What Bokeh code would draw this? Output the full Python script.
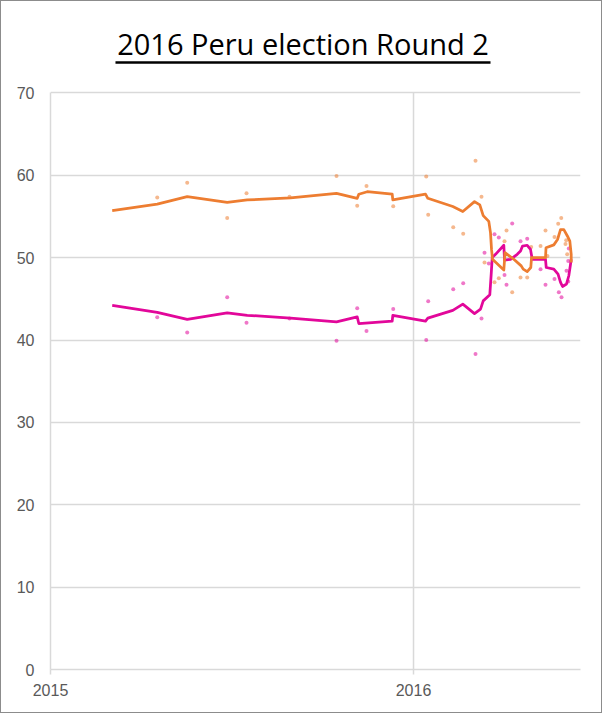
from bokeh.plotting import figure
from bokeh.models import Range1d, FixedTicker
from bokeh.core.properties import value
from bokeh.embed import file_html
from bokeh.resources import INLINE

# ---- data (decimal years, percent) ----
fuji_x = [2015.294, 2015.3766, 2015.4868, 2015.540, 2015.6584, 2015.7879, 2015.8449,
          2015.8705, 2015.9441, 2016.0350, 2016.0405, 2016.1094, 2016.1369, 2016.1708,
          2016.1873, 2016.1956, 2016.2231, 2016.2350, 2016.2507, 2016.2562, 2016.2719,
          2016.2948, 2016.3132, 2016.3242, 2016.3499, 2016.3636, 2016.3690, 2016.3884,
          2016.3986, 2016.4069, 2016.4187, 2016.4207, 2016.4234]
fuji_y = [57.3, 59.1, 54.8, 57.8, 57.4, 59.9, 56.3, 58.7, 56.25, 59.85, 55.2, 53.7, 52.9,
          61.75, 57.4, 49.4, 47.0, 47.5, 52.0, 53.3, 45.8, 47.6, 47.6, 51.3, 51.4, 53.3,
          50.2, 52.5, 54.1, 54.8, 51.65, 52.1, 50.4]

ppk_x = [2015.294, 2015.3766, 2015.4868, 2015.540, 2015.6584, 2015.7879, 2015.8449,
         2015.8705, 2015.9441, 2016.0350, 2016.0405, 2016.1094, 2016.1369, 2016.1708,
         2016.1873, 2016.1956, 2016.2074, 2016.2231, 2016.2350, 2016.2507, 2016.2562,
         2016.2719, 2016.2948, 2016.3132, 2016.3499, 2016.3636, 2016.3884, 2016.4003,
         2016.4077, 2016.4215, 2016.4262, 2016.4278, 2016.4262]
ppk_y = [42.75, 40.9, 45.2, 42.1, 42.6, 39.9, 43.85, 41.1, 43.75, 40.0, 44.7, 46.15, 46.9,
         38.3, 42.6, 50.6, 49.3, 52.85, 52.45, 47.9, 46.7, 54.15, 52.0, 52.3, 48.6, 46.7,
         47.4, 45.8, 45.2, 48.4, 47.1, 51.1, 49.6]

fuji_trend_x = [2015.170, 2015.294, 2015.3766, 2015.4868, 2015.5419, 2015.6612, 2015.7879,
                2015.8449, 2015.8493, 2015.8725, 2015.9413, 2015.9430, 2016.0331, 2016.0394,
                2016.1083, 2016.1358, 2016.1680, 2016.1826, 2016.1920, 2016.2074, 2016.2121,
                2016.2149, 2016.2176, 2016.2488, 2016.2521, 2016.2763, 2016.2967, 2016.3022,
                2016.3132, 2016.3231, 2016.3251, 2016.3636, 2016.3650, 2016.3865, 2016.3967,
                2016.4050, 2016.4141, 2016.4242, 2016.4306, 2016.4344, 2016.4344]
fuji_trend_y = [55.7, 56.5, 57.4, 56.7, 57.0, 57.25, 57.8, 57.2, 57.7, 58.0, 57.7, 57.0,
                57.7, 57.2, 56.2, 55.6, 56.8, 56.4, 55.1, 54.4, 53.0, 51.0, 49.8, 48.5,
                50.6, 49.8, 49.0, 48.6, 48.3, 48.8, 50.0, 50.0, 51.2, 51.55, 52.2, 53.4,
                53.4, 52.6, 52.0, 50.4, 49.4]

ppk_trend_x = [2015.170, 2015.294, 2015.3766, 2015.4868, 2015.5419, 2015.6612, 2015.7879,
               2015.8449, 2015.8493, 2015.9413, 2015.9430, 2016.0331, 2016.0394, 2016.1083,
               2016.1358, 2016.1680, 2016.1846, 2016.1920, 2016.2102, 2016.2140, 2016.2168,
               2016.2259, 2016.2488, 2016.2507, 2016.2672, 2016.2857, 2016.2948, 2016.3003,
               2016.3132, 2016.3223, 2016.3270, 2016.3636, 2016.3656, 2016.3865, 2016.3981,
               2016.4050, 2016.4105, 2016.4215, 2016.4278, 2016.4325, 2016.4344]
ppk_trend_y = [44.2, 43.35, 42.5, 43.3, 43.0, 42.65, 42.2, 42.8, 42.0, 42.3, 43.0, 42.3,
               42.65, 43.6, 44.35, 43.2, 43.75, 44.75, 45.5, 48.0, 50.0, 50.4, 51.5, 49.7,
               49.8, 50.4, 50.8, 51.4, 51.5, 51.0, 49.8, 49.8, 48.8, 48.6, 48.0, 47.0, 46.5,
               46.8, 47.8, 49.2, 49.8]

y_ticks = [0, 10, 20, 30, 40, 50, 60, 70]
x_ticks = [2015, 2016]
title_text = "2016 Peru election Round 2"

ORANGE = "#ED7D31"
MAGENTA = "#E2079A"
GRID = "#d9d9d9"
LABEL = "#595959"

Y_MIN, Y_MAX = y_ticks[0], y_ticks[-1]

p = figure(width=602, height=713, output_backend="svg", toolbar_location=None,
           x_range=Range1d(2015, 2016.46), y_range=Range1d(0, 80),
           min_border_left=49, min_border_right=23, min_border_top=9,
           min_border_bottom=45)
p.outline_line_color = None
p.background_fill_color = "white"
p.border_fill_color = "white"

# axes
p.yaxis.ticker = FixedTicker(ticks=y_ticks)
p.yaxis.bounds = (Y_MIN, Y_MAX)
p.xaxis.ticker = FixedTicker(ticks=x_ticks)
p.xaxis.major_label_overrides = {t: str(t) for t in x_ticks}
for ax in (p.xaxis[0], p.yaxis[0]):
    ax.axis_line_color = GRID
    ax.axis_line_width = 1.5
    ax.major_tick_line_color = GRID
    ax.major_tick_line_width = 1.5
    ax.minor_tick_line_color = None
    ax.major_tick_in = 0
    ax.major_label_text_font = "Liberation Sans"
    ax.major_label_text_font_size = "16px"
    ax.major_label_text_color = LABEL
p.yaxis.major_tick_out = 0
p.yaxis.major_label_standoff = 16
p.xaxis.major_tick_out = 5
p.xaxis.major_label_standoff = 9

p.ygrid.ticker = FixedTicker(ticks=y_ticks)
p.ygrid.grid_line_color = GRID
p.ygrid.grid_line_width = 1.5
p.xgrid.grid_line_color = None
# vertical grid line(s) at interior year ticks, spanning the value axis
inner_x = x_ticks[1:]
p.segment(x0=inner_x, y0=[Y_MIN] * len(inner_x), x1=inner_x, y1=[Y_MAX] * len(inner_x),
          line_color=GRID, line_width=1.5)

# scatter points
p.scatter(ppk_x, ppk_y, size=4, fill_color=MAGENTA, fill_alpha=0.55, line_color=None)
p.scatter(fuji_x, fuji_y, size=4, fill_color=ORANGE, fill_alpha=0.55, line_color=None)

# trend lines
p.line(ppk_trend_x, ppk_trend_y, line_color=MAGENTA, line_width=2.75, line_join="round")
p.line(fuji_trend_x, fuji_trend_y, line_color=ORANGE, line_width=2.75, line_join="round")

# title with underline (placed in the space above the 70 line)
p.text(x=[2015.6956], y=[76.05], text=[title_text], text_align="center",
       text_baseline="alphabetic", text_font=value("Open Sans"),
       text_font_size="29px", text_color="#000000")
p.segment(x0=[2015.179], y0=[73.7], x1=[2016.2121], y1=[73.7],
          line_color="#000000", line_width=2.5)

p.styles = {"border": "1px solid #8c8c8c"}

open("out.html", "w").write(file_html(p, INLINE))
